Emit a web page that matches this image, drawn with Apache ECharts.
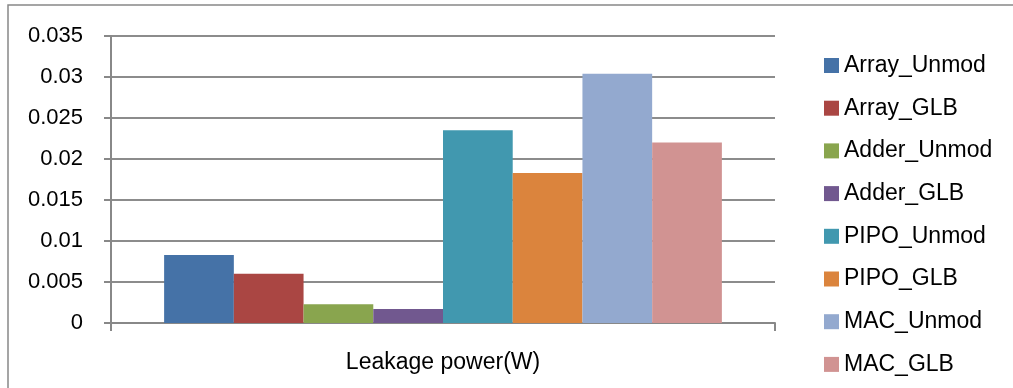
<!DOCTYPE html>
<html>
<head>
<meta charset="utf-8">
<script src="https://cdn.jsdelivr.net/npm/echarts@6/dist/echarts.min.js"></script>
<style>
  html, body { margin: 0; padding: 0; background: #fff; }
  #chart { width: 1013px; height: 388px; }
</style>
</head>
<body>
<div id="chart"></div>
<script>
// data
const categories = ['Leakage power(W)'];
const seriesNames = ['Array_Unmod', 'Array_GLB', 'Adder_Unmod', 'Adder_GLB',
                     'PIPO_Unmod', 'PIPO_GLB', 'MAC_Unmod', 'MAC_GLB'];
const seriesValues = [0.0083, 0.006, 0.0023, 0.0017, 0.0235, 0.0183, 0.0304, 0.022];
const seriesColors = ['#4572A7', '#AA4643', '#89A54E', '#71588F',
                      '#4198AF', '#DB843D', '#93A9CF', '#D19392'];
const yMin = 0, yMax = 0.035, yStep = 0.005;

const font = 'Liberation Sans';
const chart = echarts.init(document.getElementById('chart'));

const option = {
  animation: false,
  textStyle: { fontFamily: font },
  graphic: [{
    type: 'rect',
    shape: { x: 8, y: 5, width: 1100, height: 500 },
    style: { fill: 'none', stroke: '#888', lineWidth: 1.5 },
    silent: true
  }],
  grid: { left: 111, right: 238, top: 36, bottom: 65 },
  legend: {
    orient: 'vertical',
    left: 824,
    top: 54,
    padding: 0,
    icon: 'rect',
    itemWidth: 15,
    itemHeight: 15,
    itemGap: 19.7,
    data: seriesNames,
    textStyle: { fontFamily: font, fontSize: 23, color: '#000' }
  },
  xAxis: {
    type: 'category',
    data: categories,
    axisLine: { lineStyle: { color: '#888', width: 2 } },
    axisTick: { show: true, length: 8, lineStyle: { color: '#888', width: 2 } },
    axisLabel: { fontFamily: font, fontSize: 23, color: '#000', margin: 28 }
  },
  yAxis: {
    type: 'value',
    min: yMin,
    max: yMax,
    interval: yStep,
    axisLine: { show: true, lineStyle: { color: '#888', width: 2 } },
    axisTick: { show: true, length: 7, lineStyle: { color: '#888', width: 2 } },
    axisLabel: { fontFamily: font, fontSize: 22, color: '#000', margin: 28 },
    splitLine: { lineStyle: { color: '#8c8c8c', width: 2 } }
  },
  series: seriesNames.map((name, i) => ({
    name: name,
    type: 'bar',
    data: [seriesValues[i]],
    barGap: '0%',
    barCategoryGap: '16%',
    itemStyle: { color: seriesColors[i] }
  }))
};

chart.setOption(option);
</script>
</body>
</html>
